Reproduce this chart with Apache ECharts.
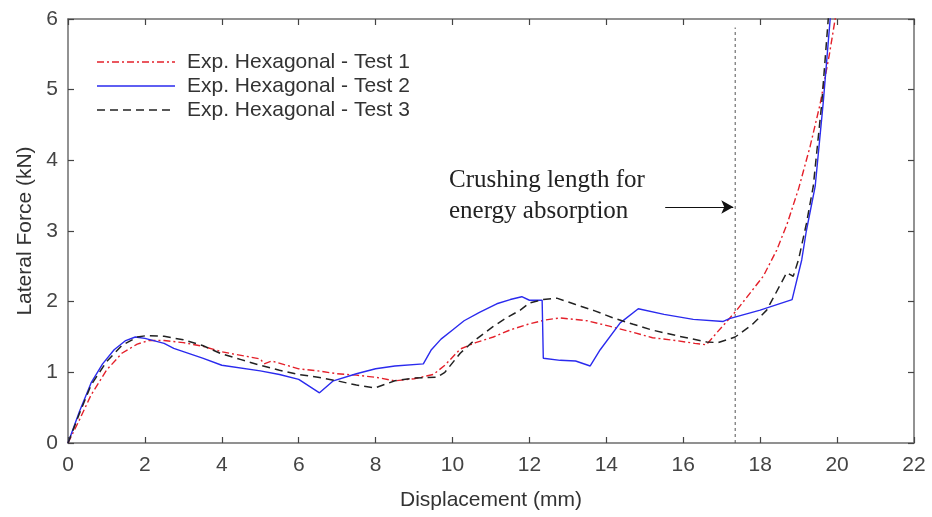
<!DOCTYPE html>
<html>
<head>
<meta charset="utf-8">
<title>Lateral Force vs Displacement</title>
<script src="https://cdn.jsdelivr.net/npm/echarts@6/dist/echarts.min.js"></script>
<style>
  html, body { margin: 0; padding: 0; background: #fff; }
  #chart { width: 932px; height: 517px; }
</style>
</head>
<body>
<div id="chart"></div>
<script>
// Displacement (mm) / lateral force (kN) for the three hexagonal specimens
const test1X = [0, 0.3, 0.6, 1.0, 1.4, 1.8, 2.1, 2.5, 3.0, 3.5, 4.0, 4.5, 5.0, 5.1, 5.3, 6.0, 6.5, 7.0, 7.5, 8.0, 8.5, 9.0, 9.5, 9.8, 10.2, 10.6, 11.06, 11.5, 11.96, 12.4, 12.8, 13.5, 14.1, 14.6, 15.2, 15.8, 16.3, 16.6, 16.87, 17.39, 18.08, 18.43, 18.7, 19.0, 19.3, 19.56, 19.8, 19.95, 20.05];
const test1Y = [0, 0.33, 0.68, 1.03, 1.27, 1.4, 1.45, 1.45, 1.42, 1.37, 1.29, 1.24, 1.19, 1.12, 1.16, 1.05, 1.02, 0.98, 0.96, 0.93, 0.88, 0.91, 0.97, 1.1, 1.33, 1.42, 1.5, 1.6, 1.68, 1.74, 1.77, 1.73, 1.65, 1.58, 1.49, 1.45, 1.41, 1.39, 1.56, 1.88, 2.36, 2.73, 3.1, 3.6, 4.2, 4.8, 5.5, 6.0, 6.3];

const test2X = [0, 0.3, 0.6, 0.9, 1.2, 1.5, 1.75, 2.0, 2.5, 2.75, 3.5, 4.0, 5.0, 5.5, 6.0, 6.54, 6.9, 7.5, 8.0, 8.5, 9.24, 9.45, 9.7, 10.0, 10.3, 10.7, 11.15, 11.5, 11.8, 12.0, 12.33, 12.36, 12.8, 13.2, 13.58, 13.84, 14.36, 14.83, 15.5, 16.26, 17.04, 17.2, 18.0, 18.83, 19.08, 19.2, 19.43, 19.64, 19.82, 19.9];
const test2Y = [0, 0.45, 0.85, 1.12, 1.32, 1.45, 1.5, 1.48, 1.41, 1.34, 1.2, 1.1, 1.02, 0.97, 0.9, 0.71, 0.88, 0.98, 1.05, 1.09, 1.12, 1.32, 1.47, 1.6, 1.73, 1.85, 1.97, 2.03, 2.07, 2.02, 2.02, 1.2, 1.17, 1.16, 1.09, 1.32, 1.7, 1.9, 1.82, 1.75, 1.72, 1.76, 1.88, 2.03, 2.59, 3.0, 3.63, 4.82, 6.0, 6.4];

const test3X = [0, 0.3, 0.6, 1.0, 1.4, 1.8, 2.05, 2.5, 3.0, 3.5, 4.0, 4.5, 5.0, 5.5, 6.0, 6.5, 7.0, 7.5, 7.98, 8.5, 9.0, 9.59, 9.8, 10.2, 10.5, 11.06, 11.4, 11.76, 12.0, 12.36, 12.71, 13.2, 13.7, 14.18, 14.7, 15.18, 15.9, 16.61, 16.9, 17.35, 17.8, 18.17, 18.69, 18.86, 19.0, 19.2, 19.38, 19.6, 19.77, 19.85];
const test3Y = [0, 0.42, 0.82, 1.15, 1.38, 1.5, 1.52, 1.51, 1.46, 1.38, 1.26, 1.18, 1.1, 1.03, 0.97, 0.93, 0.88, 0.82, 0.78, 0.88, 0.92, 0.93, 1.0, 1.27, 1.42, 1.65, 1.77, 1.88, 1.98, 2.03, 2.05, 1.96, 1.87, 1.77, 1.68, 1.6, 1.51, 1.43, 1.42, 1.5, 1.68, 1.88, 2.41, 2.36, 2.6, 3.1, 3.63, 4.8, 6.0, 6.4];

const seriesNames = ['Exp. Hexagonal - Test 1', 'Exp. Hexagonal - Test 2', 'Exp. Hexagonal - Test 3'];

// Crushing length marker (mm) and the arrow pointing at it
const crushLength = [17.35];
const crushLineTop = [5.88];
const arrowFrom = [15.53, 3.34];
const arrowTo = [17.3, 3.34];

// Axis ticks
const xTicks = [0, 2, 4, 6, 8, 10, 12, 14, 16, 18, 20, 22];
const yTicks = [0, 1, 2, 3, 4, 5, 6];

const pair = (xs, ys) => xs.map((x, i) => [x, ys[i]]);

const sansFont = 'Liberation Sans, Arial, sans-serif';
const serifFont = 'Liberation Serif, Times New Roman, serif';
const axisGray = '#6e6e6e';

const styles = [
  { color: '#e4202a', width: 1.4, dash: [7, 3, 2, 3] },
  { color: '#2a2aee', width: 1.4, dash: null },
  { color: '#222222', width: 1.5, dash: [8, 5] }
];

const chart = echarts.init(document.getElementById('chart'), null, { renderer: 'canvas' });

const baseAxis = {
  type: 'value',
  axisLine: { show: true, onZero: false, lineStyle: { color: axisGray, width: 1.5 } },
  axisTick: { show: true, inside: true, length: 6, lineStyle: { color: '#444', width: 1.2 } },
  splitLine: { show: false }
};

// Hand-built legend block in the upper-left corner of the plot
const legendGraphics = [];
seriesNames.forEach((name, i) => {
  const y = 62 + i * 24;
  legendGraphics.push({
    type: 'line', silent: true,
    shape: { x1: 97, y1: y, x2: 175, y2: y },
    style: { stroke: styles[i].color, lineWidth: styles[i].width, lineDash: styles[i].dash || null }
  });
  legendGraphics.push({
    type: 'text', silent: true, x: 187, y: y,
    style: { text: name, font: '21px ' + sansFont, fill: '#333', verticalAlign: 'middle' }
  });
});

chart.setOption({
  backgroundColor: '#ffffff',
  animation: false,
  grid: { left: 68, right: 18, top: 19, bottom: 74, containLabel: false },
  xAxis: [
    Object.assign({}, baseAxis, {
      position: 'bottom',
      min: xTicks[0], max: xTicks[xTicks.length - 1], interval: xTicks[1] - xTicks[0],
      name: 'Displacement (mm)', nameLocation: 'middle', nameGap: 47,
      nameTextStyle: { fontFamily: sansFont, fontSize: 21, color: '#333' },
      axisLabel: { fontFamily: sansFont, fontSize: 21, color: '#444', margin: 12 }
    }),
    Object.assign({}, baseAxis, {
      position: 'top',
      min: xTicks[0], max: xTicks[xTicks.length - 1], interval: xTicks[1] - xTicks[0],
      axisLabel: { show: false }
    })
  ],
  yAxis: [
    Object.assign({}, baseAxis, {
      position: 'left',
      min: yTicks[0], max: yTicks[yTicks.length - 1], interval: yTicks[1] - yTicks[0],
      name: 'Lateral Force (kN)', nameLocation: 'middle', nameGap: 29,
      nameTextStyle: { fontFamily: sansFont, fontSize: 21, color: '#333' },
      axisLabel: { fontFamily: sansFont, fontSize: 21, color: '#444', margin: 10 }
    }),
    Object.assign({}, baseAxis, {
      position: 'right',
      min: yTicks[0], max: yTicks[yTicks.length - 1], interval: yTicks[1] - yTicks[0],
      axisLabel: { show: false }
    })
  ],
  graphic: legendGraphics.concat([
    {
      type: 'text', left: 449, top: 168,
      style: { text: 'Crushing length for', font: '25px ' + serifFont, fill: '#222' }
    },
    {
      type: 'text', left: 449, top: 199,
      style: { text: 'energy absorption', font: '25px ' + serifFont, fill: '#222' }
    }
  ]),
  series: [
    {
      name: seriesNames[0], type: 'line', data: pair(test1X, test1Y),
      showSymbol: false, symbol: 'none', z: 3,
      lineStyle: { color: styles[0].color, width: styles[0].width, type: styles[0].dash }
    },
    {
      name: seriesNames[1], type: 'line', data: pair(test2X, test2Y),
      showSymbol: false, symbol: 'none', z: 4,
      lineStyle: { color: styles[1].color, width: styles[1].width, type: 'solid' }
    },
    {
      name: seriesNames[2], type: 'line', data: pair(test3X, test3Y),
      showSymbol: false, symbol: 'none', z: 5,
      lineStyle: { color: styles[2].color, width: styles[2].width, type: styles[2].dash }
    },
    {
      // vertical crushing-length marker with its arrow
      name: 'crush', type: 'line',
      data: [[crushLength[0], 0], [crushLength[0], crushLineTop[0]]],
      showSymbol: false, symbol: 'none', silent: true, z: 2,
      lineStyle: { color: '#555', width: 1, type: [3, 3] },
      markLine: {
        silent: true, animation: false,
        symbol: ['none', 'arrow'], symbolSize: [10, 12],
        label: { show: false },
        lineStyle: { color: '#111', width: 1.2, type: 'solid' },
        data: [[{ coord: arrowFrom }, { coord: arrowTo }]]
      }
    }
  ]
});
</script>
</body>
</html>
